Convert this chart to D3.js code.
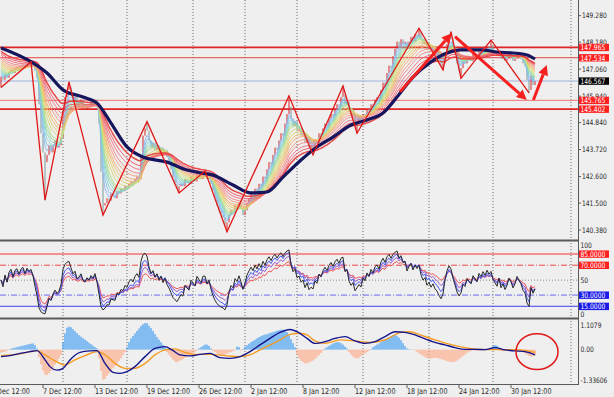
<!DOCTYPE html>
<html>
<head>
<meta charset="utf-8">
<script src="https://cdn.jsdelivr.net/npm/d3@7"></script>
<style>
  html, body { margin: 0; padding: 0; background: #efefef; }
  svg { display: block; font-family: "DejaVu Sans", sans-serif; }
</style>
</head>
<body>
<svg id="chart" width="614" height="397"></svg>
<script>
// ---- data ----
// H4 closes, one per bar (bar 0 = left edge)
const closes = [
  146.75, 146.62, 146.85, 146.70, 146.95, 147.05, 146.90, 147.10, 147.15, 147.05, 147.20, 147.25, 147.15, 147.30, 147.25, 147.30,
  147.20, 147.00, 146.70, 145.60, 144.40, 143.60, 143.20,
  143.50, 143.90, 143.60, 143.90, 144.10, 143.80, 143.90, 144.20, 145.30, 145.90, 146.20, 146.30,
  146.00, 145.70, 145.90, 145.50, 145.60, 145.80, 145.50, 145.40, 145.60, 145.50, 145.70, 145.60, 145.80, 145.50,
  144.80, 142.80, 141.40,
  141.50, 141.70, 141.60, 141.90, 141.80, 141.70, 142.00, 141.90, 142.10, 142.00, 142.20, 142.10, 142.30, 142.40, 142.30, 142.50, 142.60, 142.50, 143.40, 144.30, 144.60, 144.50,
  144.10, 143.80, 144.00, 143.70, 143.90, 143.60, 143.80, 143.50, 143.70, 143.40, 143.20,
  142.90, 142.50, 142.30, 142.10, 142.20,
  142.30, 142.20, 142.50, 142.40, 142.30, 142.60, 142.50, 142.40, 142.70, 142.60, 142.50, 142.70, 142.70, 142.50, 142.60, 142.30,
  142.00, 141.70, 141.40, 141.20, 141.00, 140.90, 140.60, 140.70,
  141.00, 141.20, 141.10, 141.40, 141.30, 141.50, 141.30, 141.00, 141.20, 141.50,
  141.70, 141.90, 141.80, 142.10, 142.00, 142.30, 142.20, 142.60, 142.50, 142.90, 143.20, 143.10, 143.50, 143.80, 143.70, 144.10, 144.40, 144.30, 144.80, 145.20, 145.50,
  145.00, 144.70, 144.90, 144.50, 144.60, 144.30, 144.40, 144.00, 144.20, 143.80, 143.90, 143.80,
  144.10, 144.00, 144.40, 144.30, 144.60, 144.80, 144.70, 145.00, 145.20, 145.10, 145.40, 145.60, 145.50, 145.90, 146.00,
  145.60, 145.70, 145.30, 145.10, 145.20, 144.80, 144.90,
  145.00, 144.90, 145.20, 145.10, 145.40, 145.30, 145.60, 145.50, 145.80, 145.90, 145.80, 146.20, 146.50, 146.40, 146.90, 147.20,
  147.10, 147.60, 147.90, 148.20, 148.00, 148.30, 148.10, 148.20, 147.90, 148.20, 148.40, 148.20, 148.50, 148.40, 148.60,
  148.30, 148.10, 148.20, 147.90, 148.00, 147.80, 147.90, 147.70, 147.60, 147.40, 147.20, 147.30,
  147.70, 148.10, 148.40, 148.30,
  148.00, 147.70, 147.30, 147.00, 147.10,
  147.40, 147.30, 147.60, 147.50, 147.40, 147.70, 147.60, 147.50, 147.80, 147.70, 147.90, 147.80, 148.00, 147.90, 148.00,
  147.80, 147.70, 147.60, 147.80, 147.50, 147.60, 147.40, 147.50, 147.70, 147.60, 147.40, 147.50, 147.70, 147.60, 147.50, 147.30, 147.20,
  146.60, 146.20, 146.80, 146.40, 146.567
];

// zigzag swing points [bar, price]
const zigzag = [
  [0, 146.30], [15, 147.36], [22, 141.62], [34, 146.53], [51, 141.00], [73, 144.88],
  [89, 141.92], [102, 142.83], [113, 140.31], [144, 145.95], [156, 143.50], [171, 146.36],
  [178, 144.40], [209, 148.76], [221, 147.03], [225, 148.62], [230, 146.68], [245, 148.27], [264, 146.07]
];

// thick navy moving average [bar, price]
const slowMa = [
  [0, 147.94], [16, 147.32], [23, 146.90], [31, 146.20], [41, 145.90], [48, 145.65], [55, 144.82],
  [63, 143.83], [71, 143.41], [83, 143.20], [93, 142.87], [100, 142.75], [106, 142.66], [116, 142.25],
  [125, 141.92], [133, 141.96], [141, 142.58], [150, 143.29], [158, 143.83], [166, 144.24], [175, 144.74],
  [183, 144.95], [191, 145.24], [198, 145.90], [206, 146.73], [215, 147.36], [223, 147.73], [230, 147.86],
  [240, 147.86], [248, 147.77], [256, 147.73], [263, 147.65], [267, 147.48]
];

// rainbow fan periods
const fanPeriods = [3, 4, 5, 6, 7, 8, 10, 12, 14, 16, 19, 22, 26, 30, 35];

// horizontal price lines
const levelPrices = [147.965, 147.534, 146.567, 145.765, 145.402];
const levelColors = ["#e02424", "#e84444", "#9fb4dc", "#f07070", "#e02424"];
const levelWidths = [1.8, 1, 1, 1, 1.8];
const levelBoxes = ["#ff2020", "#ff2020", "#000000", "#ff2020", "#ff2020"];

const priceTicks = [149.28, 148.18, 147.06, 145.94, 144.84, 143.72, 142.6, 141.5, 140.38];

const timeTicks = [
  [-5, "1 Dec 12:00"], [21, "7 Dec 12:00"], [47, "13 Dec 12:00"], [73, "19 Dec 12:00"],
  [99, "26 Dec 12:00"], [125, "2 Jan 12:00"], [151, "8 Jan 12:00"], [177, "12 Jan 12:00"],
  [203, "18 Jan 12:00"], [229, "24 Jan 12:00"], [255, "30 Jan 12:00"]
];
const gridBars = [31, 63, 96, 122, 148, 181, 214, 246, 285];

// oscillator window
const rsiPeriods = [7, 10, 14, 21];
const rsiColors = ["#2a2a2a", "#4a5af0", "#a060c8", "#f05a5a"];
const rsiLevels = [85, 70, 50, 30, 15];
const rsiLevelColors = ["#f03030", "#f04848", "#8a8a8a", "#6a6af0", "#4040f0"];
const rsiLevelDash = [null, "6,2,1,2", "1,2", "6,2,1,2", null];
const rsiLevelBoxes = ["#ff2020", "#ff2020", null, "#1a1ae8", "#1a1ae8"];
const rsiAxis = [100, 85, 70, 50, 30, 15, 0];

// MACD window, histogram one value per bar
const macdHist = [
  -0.12, -0.10, -0.08, -0.05, -0.02,
  0.04, 0.06, 0.08, 0.10, 0.12, 0.14, 0.16, 0.18, 0.20, 0.22, 0.24, 0.25, 0.18,
  0.05,
  -0.30, -0.60, -0.85, -1.00, -1.02, -0.95, -0.85, -0.72, -0.60, -0.48, -0.36, -0.22,
  0.30, 0.65, 0.88, 0.92, 0.90, 0.82, 0.74, 0.66, 0.58, 0.52, 0.46, 0.40, 0.34, 0.28, 0.22, 0.16, 0.10, 0.05,
  -0.35, -0.85, -1.20, -1.18, -1.05, -0.95, -0.85, -0.75, -0.65, -0.55, -0.45, -0.35, -0.22, -0.10,
  0.10, 0.30, 0.45, 0.55, 0.65, 0.75, 0.85, 0.95, 1.02, 1.06, 1.06, 0.96, 0.86, 0.75, 0.62, 0.50, 0.40, 0.30, 0.20, 0.10,
  -0.10, -0.20, -0.30, -0.40, -0.48, -0.50, -0.46, -0.42, -0.38, -0.33, -0.28, -0.23, -0.18, -0.13, -0.08, -0.03,
  0.05, 0.10, 0.15, 0.20, 0.20, 0.15, 0.05,
  -0.05, -0.10, -0.15, -0.20, -0.22, -0.22, -0.20, -0.16, -0.12, -0.10, -0.06, -0.03,
  0.12, 0.10,
  -0.04, 0.03,
  0.12, 0.18, 0.24, 0.30, 0.35, 0.40, 0.45, 0.50, 0.54, 0.58, 0.60, 0.62, 0.65, 0.68, 0.70, 0.73, 0.76, 0.78, 0.80, 0.80, 0.76, 0.70, 0.58, 0.42, 0.26, 0.10,
  -0.20, -0.35, -0.45, -0.50, -0.55, -0.55, -0.52, -0.48, -0.44, -0.38, -0.30, -0.22, -0.14, -0.05,
  0.05, 0.10, 0.15, 0.20, 0.25, 0.28, 0.30, 0.30, 0.26, 0.20, 0.12, 0.05,
  -0.10, -0.20, -0.28, -0.34, -0.35, -0.32, -0.26, -0.20, -0.15, -0.10, -0.05,
  0.02,
  0.10, 0.15, 0.20, 0.25, 0.30, 0.35, 0.40, 0.45, 0.50, 0.54, 0.57, 0.58, 0.56, 0.48, 0.38, 0.26, 0.14, 0.05,
  0.02, -0.02, 0.01, -0.03,
  -0.08, -0.14, -0.20, -0.25, -0.30, -0.33, -0.35, -0.35, -0.34, -0.33, -0.34, -0.36, -0.38, -0.40, -0.43, -0.46, -0.48, -0.50, -0.50, -0.48, -0.44, -0.38, -0.32, -0.26, -0.20, -0.14, -0.09, -0.05, -0.02,
  -0.03, -0.04, -0.03, -0.02, -0.04, -0.03, -0.02, -0.01,
  0.08, 0.15, 0.18, 0.16, 0.08,
  -0.04, -0.06, -0.05, -0.04, -0.06, -0.05, -0.04, -0.03, -0.05, -0.04,
  -0.06, -0.10, -0.15, -0.20, -0.25, -0.28, -0.26, -0.22
];
// MACD navy line [bar, value]
const macdMain = [
  [0, -0.28], [4.5, -0.24], [9.5, -0.15], [14.5, -0.08], [18, -0.04], [22, -0.41], [24.5, -0.68], [28, -0.82],
  [31, -0.75], [34.5, -0.41], [39.5, -0.11], [44.5, -0.05], [48, -0.04], [52, -0.55], [56, -0.91], [59.5, -0.95],
  [63, -0.88], [67, -0.68], [72, -0.28], [77, 0.05], [82, 0.12], [85.5, -0.01], [89.5, -0.21], [94.5, -0.25],
  [99.5, -0.19], [104.5, -0.15], [109.5, -0.32], [114.5, -0.35], [119.5, -0.28], [124.5, -0.08], [129.5, 0.19],
  [134.5, 0.45], [139.5, 0.69], [144.5, 0.81], [148, 0.72], [153, 0.45], [157, 0.25], [162, 0.32], [167, 0.45],
  [172, 0.52], [177, 0.35], [182, 0.25], [187, 0.32], [192, 0.52], [197, 0.72], [202, 0.69], [207, 0.59],
  [212, 0.43], [217, 0.29], [222, 0.19], [227, 0.08], [232, 0.01], [237, 0.01], [242, 0.00], [247, 0.08],
  [252, -0.01], [257, -0.05], [262, -0.08], [267, -0.21]
];
// MACD orange signal [bar, value]
const macdSignal = [
  [0, -0.24], [9.5, -0.17], [18, -0.04], [22, -0.21], [27, -0.45], [32, -0.61], [37, -0.41], [42, -0.24],
  [48, -0.08], [52, -0.21], [57, -0.55], [62, -0.75], [67, -0.75], [72, -0.55], [77, -0.21], [82, -0.01],
  [87, 0.03], [92, -0.11], [97, -0.19], [104.5, -0.19], [112, -0.24], [119.5, -0.28], [124.5, -0.21],
  [129.5, -0.01], [134.5, 0.19], [139.5, 0.39], [144.5, 0.61], [149.5, 0.66], [153, 0.59], [157, 0.35],
  [162, 0.25], [169.5, 0.39], [177, 0.35], [184.5, 0.29], [192, 0.39], [199.5, 0.68], [204.5, 0.72],
  [209.5, 0.59], [217, 0.39], [224.5, 0.21], [232, 0.08], [239.5, 0.01], [249.5, 0.00], [259.5, -0.01], [267, -0.11]
];
const macdTicks = [[1.1079, "1.1079"], [0, "0.00"], [-1.33606, "-1.33606"]];

// annotations
const arrows = [
  [[199.5, 146.12], [225.4, 148.55]],
  [[227, 148.41], [262.9, 145.78]],
  [[266.2, 145.78], [272.9, 147.23]]
];
const circleNote = { bar: 268, value: -0.08, rBars: 10.5, rValue: 0.72 };

// ---- scales ----
const plotR = 578;
const xB = d3.scaleLinear().domain([-0.5, 288.5]).range([0, plotR]);
const yP = d3.scaleLinear().domain([140.0, 149.93]).range([239.2, 0]);
const yR = d3.scaleLinear().domain([0, 100]).range([317.5, 242.8]);
const yM = d3.scaleLinear().domain([-1.33606, 1.1079]).range([383, 322]);

// ---- indicators ----
function ema(vals, p, seed) {
  const a = 2 / (p + 1);
  let e = seed === undefined ? vals[0] : seed;
  return vals.map((v) => (e = e + a * (v - e)));
}
function rsi(vals, p) {
  let ag = 0.05, al = 0.05;
  return vals.map((v, i) => {
    if (i > 0) {
      const d = v - vals[i - 1];
      ag = (ag * (p - 1) + Math.max(d, 0)) / p;
      al = (al * (p - 1) + Math.max(-d, 0)) / p;
    }
    return 100 - 100 / (1 + ag / al);
  });
}

const svg = d3.select("#chart");
const defs = svg.append("defs");
[["clipMain", 0, 239.5], ["clipRsi", 241.5, 317.5], ["clipMacd", 319.5, 384]].forEach(([id, y0, y1]) => {
  defs.append("clipPath").attr("id", id)
    .append("rect").attr("x", 0).attr("y", y0).attr("width", plotR).attr("height", y1 - y0);
});

// condensed text helper
function txt(g, x, y, s, fill, size) {
  return g.append("text")
    .attr("transform", `translate(${x},${y}) scale(0.8,1)`)
    .attr("font-size", size || 7.5)
    .attr("fill", fill || "#2a2a2a")
    .text(s);
}
function boxLabel(g, y, s, bg) {
  g.append("rect").attr("x", 579).attr("y", y - 3.6).attr("width", 30).attr("height", 7.4).attr("fill", bg);
  txt(g, 580.5, y + 2.8, s, "#ffffff");
}

// vertical dotted grid through all windows
svg.append("g").selectAll("line").data(gridBars).enter().append("line")
  .attr("x1", (d) => xB(d)).attr("x2", (d) => xB(d))
  .attr("y1", 0).attr("y2", 384)
  .attr("stroke", "#6a6a6a").attr("stroke-width", 1).attr("stroke-dasharray", "1,2");

// ---- main window ----
const main = svg.append("g").attr("clip-path", "url(#clipMain)");

main.selectAll("line.level").data(levelPrices).enter().append("line")
  .attr("x1", 0).attr("x2", plotR)
  .attr("y1", (d) => yP(d)).attr("y2", (d) => yP(d))
  .attr("stroke", (d, i) => levelColors[i]).attr("stroke-width", (d, i) => levelWidths[i]);

// candles (open = previous close)
const zzByBar = new Map(zigzag.map((d) => [d[0], d[1]]));
const candles = closes.map((c, i) => {
  const o = i > 0 ? closes[i - 1] : c;
  let hi = Math.max(o, c), lo = Math.min(o, c);
  if (zzByBar.has(i)) { hi = Math.max(hi, zzByBar.get(i)); lo = Math.min(lo, zzByBar.get(i)); }
  return { i, o, c, hi, lo };
});
main.append("g").selectAll("rect").data(candles).enter().append("rect")
  .attr("x", (d) => xB(d.i) - 0.5).attr("width", 1)
  .attr("y", (d) => yP(d.hi))
  .attr("height", (d) => Math.max(1, yP(d.lo) - yP(d.hi)))
  .attr("fill", (d) => (d.c >= d.o ? "#d8262a" : "#7f9c98"));

// rainbow fan
const fanColor = d3.interpolateRgbBasis(["#8ab4f0", "#7fd6e6", "#8fdc9a", "#d8e070", "#f5c060", "#f59a80", "#f07090", "#e83838"]);
const navy0 = slowMa[0][1];
const line = d3.line().x((d, i) => xB(i)).y((d) => yP(d));
fanPeriods.forEach((p, k) => {
  const seed = closes[0] + (navy0 - closes[0]) * (k + 1) / (fanPeriods.length + 1);
  main.append("path")
    .datum(ema(closes, p, seed))
    .attr("d", line)
    .attr("fill", "none")
    .attr("stroke", fanColor(k / (fanPeriods.length - 1)))
    .attr("stroke-width", k === fanPeriods.length - 1 ? 1.5 : 1)
    .attr("opacity", 0.9);
});

main.append("path")
  .datum(slowMa)
  .attr("d", d3.line().x((d) => xB(d[0])).y((d) => yP(d[1])).curve(d3.curveMonotoneX))
  .attr("fill", "none").attr("stroke", "#16165e").attr("stroke-width", 3.2);

main.append("path")
  .datum(zigzag)
  .attr("d", d3.line().x((d) => xB(d[0])).y((d) => yP(d[1])))
  .attr("fill", "none").attr("stroke", "#e01818").attr("stroke-width", 1.3);

// red arrows
arrows.forEach(([a, b]) => {
  const x1 = xB(a[0]), y1 = yP(a[1]), x2 = xB(b[0]), y2 = yP(b[1]);
  const ang = Math.atan2(y2 - y1, x2 - x1), hl = 10, hw = 5;
  const bx = x2 - hl * Math.cos(ang), by = y2 - hl * Math.sin(ang);
  main.append("line").attr("x1", x1).attr("y1", y1).attr("x2", bx).attr("y2", by)
    .attr("stroke", "#f52020").attr("stroke-width", 3);
  main.append("path")
    .attr("d", `M${x2},${y2}L${bx - hw * Math.sin(ang)},${by + hw * Math.cos(ang)}L${bx + hw * Math.sin(ang)},${by - hw * Math.cos(ang)}Z`)
    .attr("fill", "#f52020");
});

// ---- oscillator window ----
const osc = svg.append("g").attr("clip-path", "url(#clipRsi)");
osc.selectAll("line").data(rsiLevels).enter().append("line")
  .attr("x1", 0).attr("x2", plotR)
  .attr("y1", (d) => yR(d)).attr("y2", (d) => yR(d))
  .attr("stroke", (d, i) => rsiLevelColors[i])
  .attr("stroke-dasharray", (d, i) => rsiLevelDash[i]);
const rLine = d3.line().x((d, i) => xB(i)).y((d) => yR(d));
rsiPeriods.slice().reverse().forEach((p, k) => {
  const idx = rsiPeriods.length - 1 - k;
  osc.append("path").datum(rsi(closes, p)).attr("d", rLine)
    .attr("fill", "none").attr("stroke", rsiColors[idx]).attr("stroke-width", 1);
});

// ---- MACD window ----
const macd = svg.append("g").attr("clip-path", "url(#clipMacd)");
macd.selectAll("rect").data(macdHist).enter().append("rect")
  .attr("x", (d, i) => xB(i) - 0.6).attr("width", 1.2)
  .attr("y", (d) => Math.min(yM(d), yM(0)))
  .attr("height", (d) => Math.abs(yM(d) - yM(0)))
  .attr("fill", (d) => (d >= 0 ? "#3d9af0" : "#ffa882"));
const mLine = d3.line().x((d) => xB(d[0])).y((d) => yM(d[1])).curve(d3.curveMonotoneX);
macd.append("path").datum(macdSignal).attr("d", mLine).attr("fill", "none").attr("stroke", "#f59a20").attr("stroke-width", 1.4);
macd.append("path").datum(macdMain).attr("d", mLine).attr("fill", "none").attr("stroke", "#14148c").attr("stroke-width", 1.4);
macd.append("ellipse")
  .attr("cx", xB(circleNote.bar)).attr("cy", yM(circleNote.value))
  .attr("rx", xB(circleNote.bar + circleNote.rBars) - xB(circleNote.bar))
  .attr("ry", yM(0) - yM(circleNote.rValue))
  .attr("fill", "none").attr("stroke", "#e01818").attr("stroke-width", 1.5);

// ---- frames ----
const frame = svg.append("g").attr("stroke", "#5a5a5a");
frame.append("line").attr("x1", 0).attr("x2", plotR).attr("y1", 240.5).attr("y2", 240.5).attr("stroke-width", 2);
frame.append("line").attr("x1", 0).attr("x2", plotR).attr("y1", 318.5).attr("y2", 318.5).attr("stroke-width", 2);
frame.append("line").attr("x1", 0).attr("x2", plotR).attr("y1", 384.5).attr("y2", 384.5).attr("stroke-width", 1);
frame.append("line").attr("x1", plotR + 0.5).attr("x2", plotR + 0.5).attr("y1", 0).attr("y2", 385).attr("stroke-width", 1);

// ---- right axis ----
const axis = svg.append("g");
priceTicks.forEach((p) => {
  axis.append("line").attr("x1", plotR).attr("x2", plotR + 3).attr("y1", yP(p)).attr("y2", yP(p)).attr("stroke", "#5a5a5a");
  txt(axis, 582, yP(p) + 2.8, p.toFixed(3));
});
levelPrices.forEach((p, i) => boxLabel(axis, yP(p), p.toFixed(3), levelBoxes[i]));

rsiAxis.forEach((v) => {
  const k = rsiLevels.indexOf(v);
  const y = Math.min(Math.max(yR(v), 245.5), 314);
  if (k >= 0 && rsiLevelBoxes[k]) boxLabel(axis, y, v.toFixed(4), rsiLevelBoxes[k]);
  else txt(axis, 580.5, y + 2.8, String(v));
});
macdTicks.forEach(([v, s]) => {
  const y = Math.min(Math.max(yM(v), 325), 380.5);
  txt(axis, 580.5, y + 2.8, s);
});

// ---- time axis ----
const taxis = svg.append("g");
timeTicks.forEach(([b, s]) => {
  taxis.append("line").attr("x1", xB(b)).attr("x2", xB(b)).attr("y1", 385).attr("y2", 388).attr("stroke", "#5a5a5a");
  txt(taxis, xB(b), 394, s, "#2a2a2a", 8);
});
</script>
</body>
</html>
